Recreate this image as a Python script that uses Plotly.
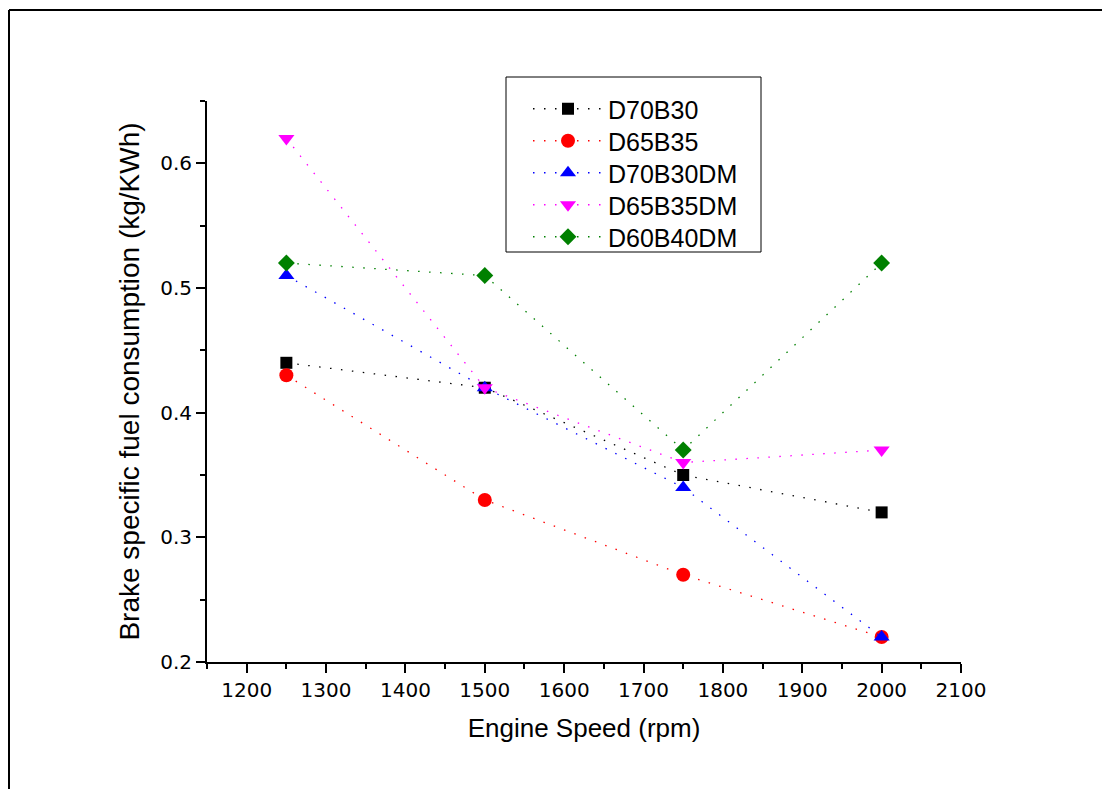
import plotly.graph_objects as go

speed = [1250, 1500, 1750, 2000]
d70b30 = [0.44, 0.42, 0.35, 0.32]
d65b35 = [0.43, 0.33, 0.27, 0.22]
d70b30dm = [0.51, 0.42, 0.34, 0.22]
d65b35dm = [0.62, 0.42, 0.36, 0.37]
d60b40dm = [0.52, 0.51, 0.37, 0.52]

series = [
    ("D70B30", d70b30, "black", "square", 12),
    ("D65B35", d65b35, "red", "circle", 14),
    ("D70B30DM", d70b30dm, "blue", "triangle-up", 14),
    ("D65B35DM", d65b35dm, "magenta", "triangle-down", 14),
    ("D60B40DM", d60b40dm, "green", "diamond", 13),
]

OFF = 8  # default page body margin
W, H = 1110 - OFF, 789 - OFF
L, R, T, B = 207 - OFF, 961 - OFF, 101 - OFF, 662 - OFF


def px(x):
    return (x - OFF - L) / (R - L)


def py(y):
    return (B - (y - OFF)) / (B - T)


font = "Liberation Sans, Arial, sans-serif"
tfont = "DejaVu Sans, Verdana, sans-serif"

fig = go.Figure()
legends = {}
for i, (name, vals, col, sym, sz) in enumerate(series):
    key = "legend" if i == 0 else f"legend{i + 1}"
    fig.add_trace(go.Scatter(
        x=speed, y=vals, name=name, mode="lines+markers",
        legend=key,
        line=dict(color=col, width=1.3, dash="1.5px,9.5px"),
        marker=dict(color=col, symbol=sym, size=sz, line=dict(width=0)),
    ))
    legends[key] = dict(
        x=px(528), y=py(86 + 32 * i), xanchor="left", yanchor="top",
        bgcolor="rgba(0,0,0,0)", borderwidth=0,
        font=dict(family=font, size=25, color="black"),
        itemwidth=70,
    )

tick_font = dict(family=tfont, size=20, color="black")
axis_common = dict(
    showline=True, linecolor="black", linewidth=2,
    ticks="outside", ticklen=9, tickwidth=2, tickcolor="black",
    showgrid=False, zeroline=False, mirror=False,
)

fig.update_layout(
    template="none",
    font=tick_font,
    width=W, height=H,
    margin=dict(l=L, r=W - R, t=T, b=H - B),
    paper_bgcolor="white", plot_bgcolor="white",
    showlegend=True,
    xaxis=dict(
        range=[1150, 2100], dtick=100, tick0=1200,
        tickfont=tick_font,
        minor=dict(ticks="outside", ticklen=5, dtick=50, tickwidth=2, tickcolor="black"),
        title=dict(text="Engine Speed (rpm)", font=dict(family=font, size=26, color="black"), standoff=18),
        **axis_common,
    ),
    yaxis=dict(
        range=[0.2, 0.65], dtick=0.1, tick0=0.2, tickformat=".1f",
        tickfont=tick_font,
        minor=dict(ticks="outside", ticklen=5, dtick=0.05, tickwidth=2, tickcolor="black"),
        title=dict(text="Brake specific fuel consumption (kg/KWh)", font=dict(family=font, size=28, color="black"), standoff=12),
        **axis_common,
    ),
    shapes=[
        dict(type="line", xref="paper", yref="paper", x0=px(9), x1=px(1120), y0=py(10), y1=py(10),
             line=dict(color="black", width=2)),
        dict(type="line", xref="paper", yref="paper", x0=px(9), x1=px(9), y0=py(10), y1=py(800),
             line=dict(color="black", width=2)),
        dict(type="rect", xref="paper", yref="paper", x0=px(506), x1=px(761), y0=py(77), y1=py(252),
             line=dict(color="black", width=1)),
    ],
    **legends,
)

fig.write_html("out.html")
